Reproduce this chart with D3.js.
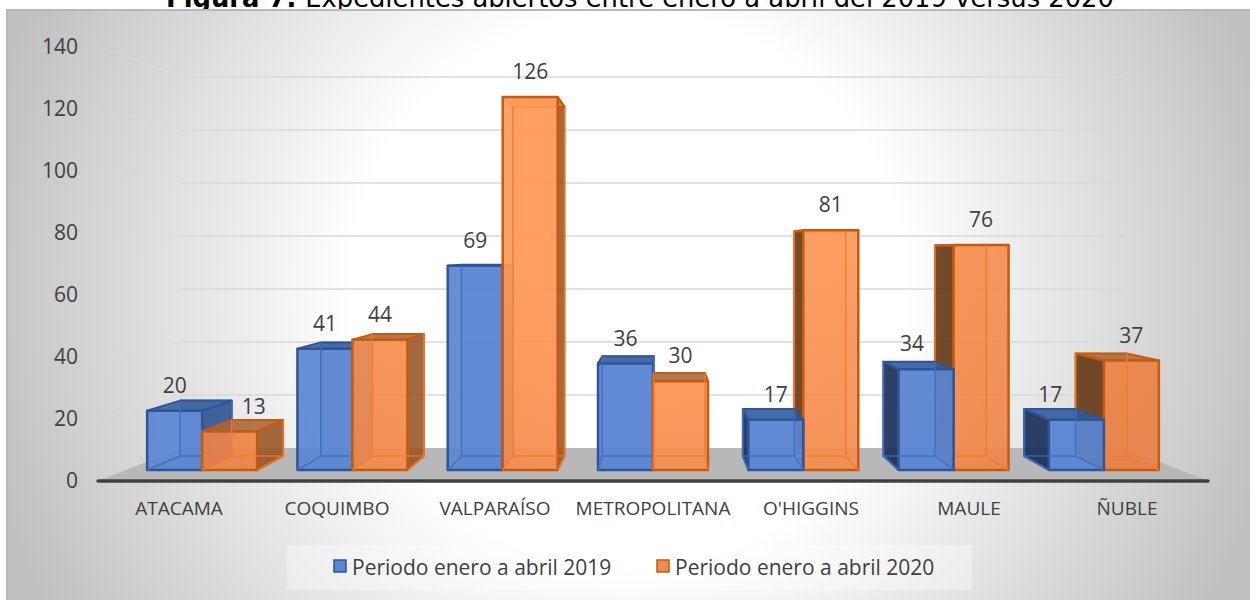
<!DOCTYPE html>
<html lang="en">
<head>
<meta charset="utf-8">
<script src="https://d3js.org/d3.v7.min.js"></script>
<style>
	html, body { margin: 0; padding: 0; background: #fff; }
	svg { display: block; }
	text { font-family: "Open Sans", sans-serif; fill: #404040; }
	.axis path, .axis line { display: none; }
</style>
</head>
<body>
<svg width="1250" height="600"></svg>
<script>
const categories = ["ATACAMA", "COQUIMBO", "VALPARAÍSO", "METROPOLITANA", "O'HIGGINS", "MAULE", "ÑUBLE"];
const values2019 = [20, 41, 69, 36, 17, 34, 17];
const values2020 = [13, 44, 126, 30, 81, 76, 37];
const seriesNames = ["Periodo enero a abril 2019", "Periodo enero a abril 2020"];
const yTicks = [0, 20, 40, 60, 80, 100, 120, 140];

const svg = d3.select("svg");
const defs = svg.append("defs");

const bg = defs.append("radialGradient").attr("id", "bg")
	.attr("gradientUnits", "userSpaceOnUse")
	.attr("cx", 628).attr("cy", 290).attr("r", 660);
bg.append("stop").attr("offset", "0.42").attr("stop-color", "#ffffff");
bg.append("stop").attr("offset", "1").attr("stop-color", "#c0c0c0");

// orange fronts look brighter towards the top middle of the picture
const orange = defs.append("radialGradient").attr("id", "orangeFront")
	.attr("gradientUnits", "userSpaceOnUse")
	.attr("cx", 640).attr("cy", 100).attr("r", 600);
orange.append("stop").attr("offset", "0.35").attr("stop-color", "#ff9b5a");
orange.append("stop").attr("offset", "1").attr("stop-color", "#e98045");

// fades the left wall gridlines out towards the front
const wall = defs.append("linearGradient").attr("id", "wall")
	.attr("gradientUnits", "userSpaceOnUse")
	.attr("x1", 98).attr("y1", 0).attr("x2", 183).attr("y2", 0);
wall.append("stop").attr("offset", "0").attr("stop-color", "#e6e6e6").attr("stop-opacity", 0.05);
wall.append("stop").attr("offset", "0.7").attr("stop-color", "#e0e0e0").attr("stop-opacity", 0.3);
wall.append("stop").attr("offset", "1").attr("stop-color", "#d9d9d9").attr("stop-opacity", 0.9);

// title sits under the chart picture, which cuts off its lower half
svg.append("text")
	.attr("x", 640).attr("y", 7)
	.attr("text-anchor", "middle")
	.style("font-family", "'DejaVu Sans'").style("font-size", "25.8px").style("fill", "#000")
	.call(t => {
		t.append("tspan").attr("font-weight", "bold").text("Figura 7. ");
		t.append("tspan").text("Expedientes abiertos entre enero a abril del 2019 versus 2020");
	});

svg.append("rect")
	.attr("x", 6).attr("y", 9).attr("width", 1244).attr("height", 591)
	.attr("fill", "url(#bg)");
svg.append("path")
	.attr("d", "M7,600V10H1250")
	.attr("fill", "none").attr("stroke", "#b8b8b8").attr("stroke-width", 2);

// scales: front plane of the axis, back wall, front plane of the bars
const yAxisScale = d3.scaleLinear().domain([0, 140]).range([481, 47]);
const yWall = d3.scaleLinear().domain([0, 140]).range([448, 77]);
const yBar = d3.scaleLinear().domain([0, 140]).range([470, 55.6]);
const xLabel = d3.scaleBand().domain(categories).range([100, 1206]);
const xGroup = d3.scaleBand().domain(categories).range([127, 1179]);
const xSeries = d3.scaleBand().domain([0, 1]).range([0, 110]);

// depth of a bar: back corner = front corner scaled towards the vanishing point
const depth = 0.936;
const back = ([x, y]) => [42.4 + depth * x, 16.1 + depth * y];
const line = d3.line();

// floor
svg.append("path")
	.attr("d", line([[97, 481], [183, 448], [1124, 448], [1208, 481]]) + "Z")
	.attr("fill", "#b8b8b8");

// gridlines on the back wall and the left wall
const grid = svg.append("g");
grid.selectAll(".back").data(yTicks.filter(d => d > 0)).join("line")
	.attr("x1", 183).attr("x2", 1124)
	.attr("y1", d => yWall(d)).attr("y2", d => yWall(d))
	.attr("stroke", "#d9d9d9").attr("stroke-width", 1.5);
grid.selectAll(".side").data(yTicks.filter(d => d > 0)).join("path")
	.attr("d", d => line([[98, yAxisScale(d)], [183, yWall(d)]]))
	.attr("fill", "none").attr("stroke", "url(#wall)").attr("stroke-width", 1.5);

const palette = [
	{ front: "#5a86d3", line: "#2f5597", back: "#3f6fc0", top: "#2f5a9e", right: "#264a88", left: "#14284f" },
	{ front: "url(#orangeFront)", line: "#c55a11", back: "#ef7d2f", top: "#a8673a", right: "#8f4f22", left: "#5c3212" }
];
const legendFill = ["#5a86d3", "#f08c4c"];

function drawBar(g, cat, series, value) {
	const c = palette[series];
	const x0 = xGroup(cat) + (xGroup.bandwidth() - 110) / 2 + xSeries(series);
	const x1 = x0 + xSeries.bandwidth();
	const y0 = yBar(0), y1 = yBar(value);
	const fbl = [x0, y0], fbr = [x1, y0], ftr = [x1, y1], ftl = [x0, y1];
	const bbl = back(fbl), bbr = back(fbr), btr = back(ftr), btl = back(ftl);
	const face = (pts, fill, op, stroke, sw) => g.append("path")
		.attr("d", line(pts) + "Z")
		.attr("fill", fill).attr("fill-opacity", op)
		.attr("stroke", stroke).attr("stroke-width", sw).attr("stroke-linejoin", "round");
	face([bbl, bbr, btr, btl], c.back, 0.35, c.back, 1.5);
	face([fbl, fbr, bbr, bbl], c.back, 0.35, c.back, 1.5);
	// only the side facing the viewer is solid
	if (bbl[0] < x0) face([fbl, bbl, btl, ftl], c.left, 0.85, c.line, 2);
	if (bbr[0] > x1) face([fbr, bbr, btr, ftr], c.right, 0.8, c.line, 2);
	// top is seen from below only for the tall bars
	face([ftl, ftr, btr, btl], y1 > 251 ? c.top : c.back, y1 > 251 ? 0.85 : 0.75, c.line, 2);
	face([fbl, fbr, ftr, ftl], c.front, 0.92, c.line, 2.5);
	// the hidden back edges show through the front
	g.append("path")
		.attr("d", line([btl, bbl, bbr, btr]) + line([fbl, bbl]) + line([fbr, bbr]))
		.attr("fill", "none").attr("stroke", c.back).attr("stroke-width", 1.5).attr("stroke-opacity", 0.85);
}

// painter's order flips once the group is right of the vanishing point
const bars = svg.append("g");
categories.forEach((cat, i) => {
	const g = bars.append("g");
	const order = xGroup(cat) + 55 > 700 ? [1, 0] : [0, 1];
	order.forEach(s => drawBar(g, cat, s, (s === 0 ? values2019 : values2020)[i]));
});

// axis line
svg.append("line")
	.attr("x1", 98).attr("x2", 1208).attr("y1", yAxisScale(0)).attr("y2", yAxisScale(0))
	.attr("stroke", "#404040").attr("stroke-width", 3.5).attr("stroke-linecap", "round");

// value labels, some get pushed aside in the original (series:category)
const labelNudge = { "1:0": 24, "0:5": -14, "0:6": -26 };
[values2019, values2020].forEach((vals, s) => {
	svg.append("g").selectAll("text").data(vals).join("text")
		.attr("x", (d, i) => xGroup(categories[i]) + (xGroup.bandwidth() - 110) / 2
			+ xSeries(s) + xSeries.bandwidth() / 2 + (labelNudge[s + ":" + i] || 0))
		.attr("y", d => yBar(d) - 25.5)
		.attr("dy", "0.36em")
		.attr("text-anchor", "middle")
		.style("font-size", "21px")
		.text(d => d);
});

// axes
svg.append("g").attr("class", "axis")
	.attr("transform", "translate(78,0)")
	.call(d3.axisLeft(yAxisScale).tickValues(yTicks).tickSize(0).tickPadding(0))
	.call(g => g.selectAll("text").style("font-size", "21px").style("font-family", "'Open Sans'"));
svg.append("g").attr("class", "axis")
	.attr("transform", "translate(0,508)")
	.call(d3.axisBottom(xLabel).tickSize(0).tickPadding(0))
	.call(g => g.selectAll("text").attr("dy", "0.36em").attr("y", 0)
		.style("font-size", "19px").style("font-family", "'Open Sans'"));

// legend
const legend = svg.append("g");
legend.append("rect")
	.attr("x", 287).attr("y", 545).attr("width", 685).attr("height", 45)
	.attr("fill", "#ffffff").attr("fill-opacity", 0.35);
const legendX = d3.scaleOrdinal().domain(seriesNames).range([334, 657]);
seriesNames.forEach((name, s) => {
	legend.append("rect")
		.attr("x", legendX(name)).attr("y", 560).attr("width", 12).attr("height", 12)
		.attr("fill", legendFill[s]).attr("stroke", palette[s].line).attr("stroke-width", 1.5);
	legend.append("text")
		.attr("x", legendX(name) + 18).attr("y", 567).attr("dy", "0.36em")
		.style("font-size", "21px")
		.text(name);
});
</script>
</body>
</html>
